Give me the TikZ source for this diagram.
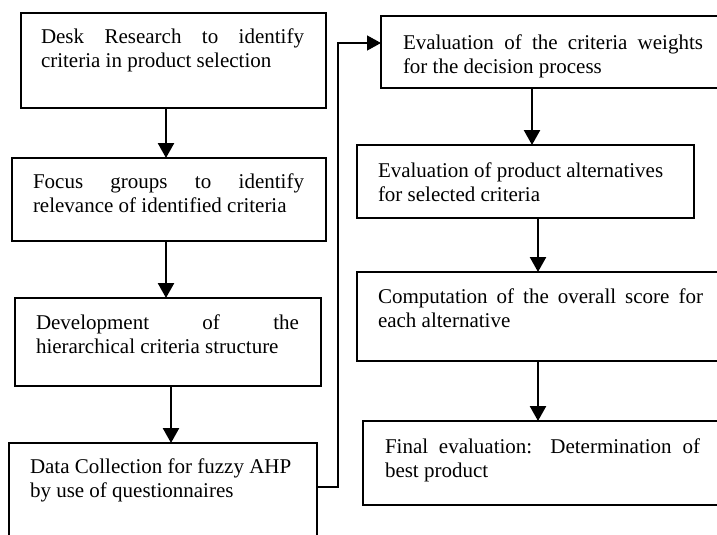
\documentclass[tikz,border=0pt]{standalone}
\usepackage{fontspec}
\setmainfont{Liberation Serif}
\usetikzlibrary{arrows.meta}
\begin{document}
\begin{tikzpicture}[x=1pt,y=-1pt,
  box/.style={draw, line width=2pt, inner sep=0pt, outer sep=0pt, anchor=north west},
  txt/.style={anchor=north west, inner sep=0pt, outer sep=0pt, align=left,
              font=\fontsize{21}{24.5}\selectfont, yshift=17.15pt},
  flow/.style={line width=2.5pt, -{Triangle[width=16pt,length=15pt]}},
  link/.style={line width=1.4pt, -{Triangle[width=15pt,length=14pt]}}]
\clip (0,0) rectangle (717,535);
% left column boxes
\node[box, minimum width=305pt, minimum height=95pt] (b1) at (21,13) {};
\node[box, minimum width=314pt, minimum height=83pt] (b2) at (12,158) {};
\node[box, minimum width=306pt, minimum height=88pt] (b3) at (15,298) {};
\node[box, minimum width=308pt, minimum height=120pt] (b4) at (9,443) {};
% right column boxes
\node[box, minimum width=364pt, minimum height=72pt] (b5) at (381,16) {};
\node[box, minimum width=337pt, minimum height=73pt] (b6) at (357,145) {};
\node[box, minimum width=388pt, minimum height=89pt] (b7) at (357,272) {};
\node[box, minimum width=382pt, minimum height=84pt] (b8) at (363,421) {};
% texts
\node[txt] (t1) at (41,43) {\strut\makebox[263pt][s]{Desk Research to identify}\\criteria in product selection};
\node[txt] (t2) at (33,188) {\strut\makebox[271pt][s]{Focus groups to identify}\\relevance of identified criteria};
\node[txt] (t3) at (36,329) {\strut\makebox[263pt][s]{Development of the}\\hierarchical criteria structure};
\node[txt] (t4) at (30,473) {\strut Data Collection for fuzzy AHP\\by use of questionnaires};
\node[txt] (t5) at (403,49) {\strut\makebox[300pt][s]{Evaluation of the criteria weights}\\for the decision process};
\node[txt] (t6) at (378,177) {\strut Evaluation of product alternatives\\for selected criteria};
\node[txt] (t7) at (378,303) {\strut\makebox[325pt][s]{Computation of the overall score for}\\each alternative};
\node[txt] (t8) at (385,453) {\strut\makebox[315pt][s]{Final evaluation: Determination of}\\best product};
% connectors
\coordinate (xa) at (166,0);
\coordinate (xb) at (171,0);
\coordinate (xc) at (532,0);
\coordinate (xd) at (538,0);
\draw[flow] (b1.south -| xa) -- (b2.north -| xa);
\draw[flow] (b2.south -| xa) -- (b3.north -| xa);
\draw[flow] (b3.south -| xb) -- (b4.north -| xb);
\draw[flow] (b5.south -| xc) -- (b6.north -| xc);
\draw[flow] (b6.south -| xd) -- (b7.north -| xd);
\draw[flow] (b7.south -| xd) -- (b8.north -| xd);
\coordinate (j1) at (338,487);
\coordinate (j2) at (338,43);
\draw[link] (j1 -| b4.east) -- (j1) -- (j2) -- (j2 -| b5.west);
\end{tikzpicture}
\end{document}
